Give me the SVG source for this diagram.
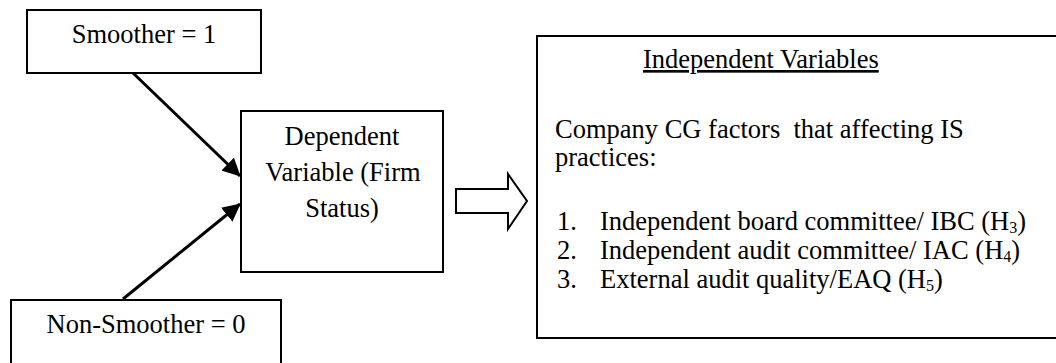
<svg xmlns="http://www.w3.org/2000/svg" width="1056" height="363" viewBox="0 0 1056 363">
<style>
.box{fill:#fff;stroke:#000;stroke-width:2}
.t{font-family:"Liberation Serif","Times New Roman",serif;font-size:26.5px;fill:#000}
.c{text-anchor:middle}
.conn{stroke:#000;stroke-width:3;fill:none}
.sub{font-size:16px}
</style>
<defs>
<marker id="ah" viewBox="0 0 10 10" refX="9.5" refY="5" markerWidth="6" markerHeight="6" markerUnits="strokeWidth" orient="auto">
<path d="M0,0 L10,5 L0,10 z" fill="#000"/>
</marker>
</defs>
<rect width="1056" height="363" fill="#fff"/>
<g id="smoother">
<rect class="box" x="27" y="10" width="234" height="63"/>
<text class="t c" x="144" y="43">Smoother = 1</text>
</g>
<g id="non-smoother">
<rect class="box" x="11" y="300" width="270" height="80"/>
<text class="t c" x="146" y="333">Non-Smoother = 0</text>
</g>
<g id="dependent">
<rect class="box" x="241" y="111" width="202" height="161"/>
<text class="t c" x="342" y="145">Dependent</text>
<text class="t c" x="343" y="181">Variable (Firm</text>
<text class="t c" x="342" y="217">Status)</text>
</g>
<g id="independent">
<rect class="box" x="537" y="36" width="540" height="302"/>
<text class="t" x="643" y="68" text-decoration="underline">Independent Variables</text>
<text class="t" x="555" y="138" xml:space="preserve">Company CG factors  that affecting IS</text>
<text class="t" x="555" y="166">practices:</text>
<text class="t" x="557" y="230">1.</text>
<text class="t" x="600" y="230">Independent board committee/ IBC (H<tspan class="sub" dy="3">3</tspan><tspan dy="-3">)</tspan></text>
<text class="t" x="557" y="259">2.</text>
<text class="t" x="600" y="259">Independent audit committee/ IAC (H<tspan class="sub" dy="3">4</tspan><tspan dy="-3">)</tspan></text>
<text class="t" x="557" y="288">3.</text>
<text class="t" x="600" y="288">External audit quality/EAQ (H<tspan class="sub" dy="3">5</tspan><tspan dy="-3">)</tspan></text>
</g>
<g id="connectors">
<line class="conn" x1="133" y1="73" x2="240" y2="176" marker-end="url(#ah)"/>
<line class="conn" x1="123" y1="299" x2="240" y2="204" marker-end="url(#ah)"/>
<polygon points="456,189 508,189 508,174 527,201 508,229 508,213 456,213" fill="#fff" stroke="#000" stroke-width="2"/>
</g>
</svg>
